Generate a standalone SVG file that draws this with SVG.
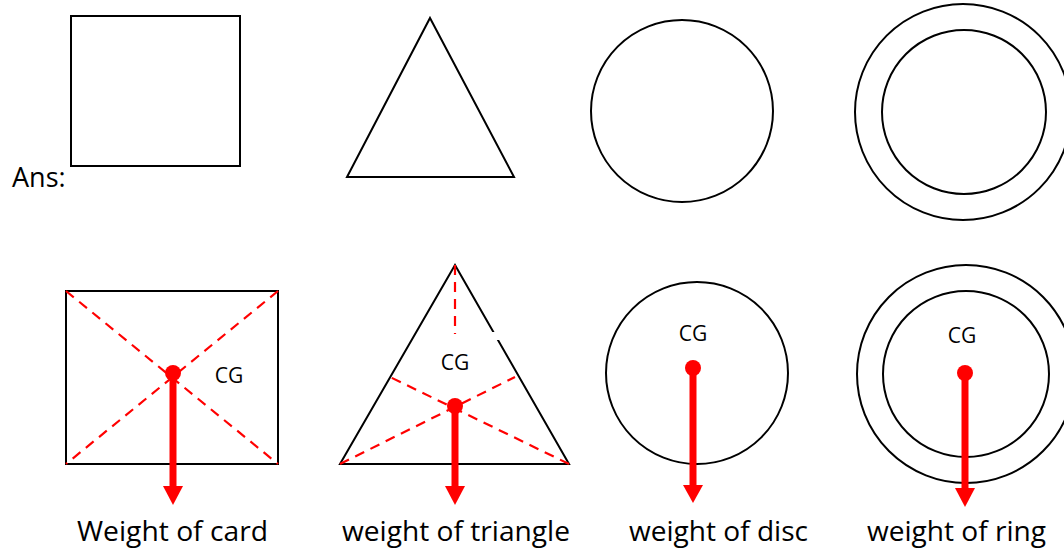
<svg xmlns="http://www.w3.org/2000/svg" width="1064" height="548" viewBox="0 0 1064 548">
<style>
.shape{fill:none;stroke:#000;stroke-width:2}
.dash{fill:none;stroke:#ff0000;stroke-width:2.2;stroke-dasharray:10 7}
.vec{stroke:#ff0000;stroke-width:7;fill:none}
.head{fill:#ff0000}
.dot{fill:#ff0000}
.cg{font-family:"Open Sans","Noto Sans",sans-serif;font-size:21px;fill:#000;text-anchor:middle}
.lbl{font-family:"Open Sans","Noto Sans",sans-serif;font-size:27px;fill:#000}
</style>
<rect width="1064" height="548" fill="#fff"/>
<text id="ans" class="lbl" x="12" y="187" font-size="28">Ans:</text>
<g id="top-square"><rect class="shape" x="71" y="16" width="169" height="150"/></g>
<g id="top-triangle"><polygon class="shape" points="430,18 514,177 347,177"/></g>
<g id="top-disc"><circle class="shape" cx="682" cy="111" r="91"/></g>
<g id="top-ring"><circle class="shape" cx="963" cy="112" r="108"/><circle class="shape" cx="964" cy="112" r="82"/></g>

<g id="card">
<rect class="shape" x="66" y="291" width="212" height="173"/>
<line class="dash" x1="66" y1="291" x2="278" y2="464"/>
<line class="dash" x1="278" y1="291" x2="66" y2="464"/>
<text class="cg" x="229" y="383">CG</text>
<text class="lbl" x="77" y="541" textLength="191" lengthAdjust="spacingAndGlyphs">Weight of card</text>
</g>
<g id="triangle">
<polygon class="shape" points="455,265 569,464 340,464"/>
<rect x="489" y="332" width="10" height="8" fill="#fff"/>
<line class="dash" x1="455" y1="265" x2="455" y2="334"/>
<line class="dash" x1="340" y1="464" x2="515" y2="377"/>
<line class="dash" x1="569" y1="464" x2="390" y2="377"/>
<text class="cg" x="455" y="370">CG</text>
<text class="lbl" x="342" y="541" textLength="228" lengthAdjust="spacingAndGlyphs">weight of triangle</text>
</g>
<g id="disc">
<circle class="shape" cx="697" cy="373" r="91"/>
<text class="cg" x="693" y="341">CG</text>
<text class="lbl" x="629" y="541" textLength="179" lengthAdjust="spacingAndGlyphs">weight of disc</text>
</g>
<g id="ring">
<circle class="shape" cx="966" cy="374" r="109"/>
<circle class="shape" cx="966" cy="374" r="83"/>
<text class="cg" x="962" y="343">CG</text>
<text class="lbl" x="867" y="541" textLength="179" lengthAdjust="spacingAndGlyphs">weight of ring</text>
</g>

<g id="connectors">
<circle class="dot" cx="173" cy="373" r="8"/>
<line class="vec" x1="173" y1="373" x2="173" y2="487"/>
<polygon class="head" points="163,486 183,486 173,505"/>
<circle class="dot" cx="455" cy="406" r="8"/>
<line class="vec" x1="455" y1="406" x2="455" y2="487"/>
<polygon class="head" points="445,486 465,486 455,505"/>
<circle class="dot" cx="693" cy="368" r="8"/>
<line class="vec" x1="693" y1="368" x2="693" y2="486"/>
<polygon class="head" points="683,485 703,485 693,503"/>
<circle class="dot" cx="965" cy="373" r="8"/>
<line class="vec" x1="965" y1="373" x2="965" y2="489"/>
<polygon class="head" points="955,488 975,488 965,507"/>
</g>
</svg>
